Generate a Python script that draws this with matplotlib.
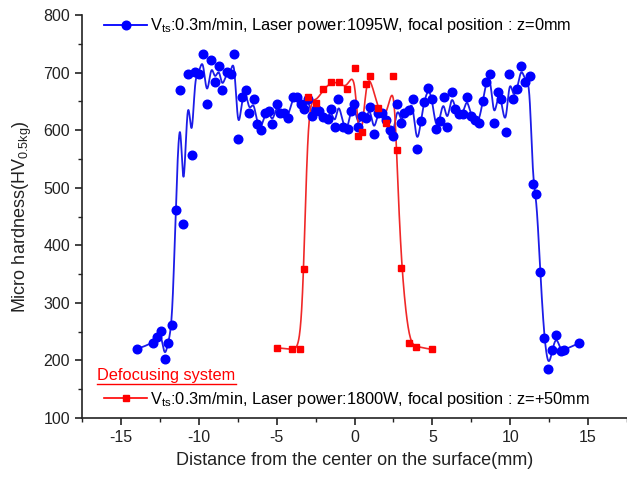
import numpy as np
import matplotlib
matplotlib.use("Agg")
import matplotlib.pyplot as plt
from matplotlib.lines import Line2D

plt.rcParams['font.family'] = ['Liberation Sans', 'DejaVu Sans']
plt.rcParams['mathtext.fontset'] = 'custom'
plt.rcParams['mathtext.rm'] = 'Liberation Sans'
plt.rcParams['mathtext.it'] = 'Liberation Sans'

# focused system, z=0mm, 1095W
x_focus = [-13.96, -12.94, -12.70, -12.43, -12.20, -11.97, -11.70, -11.49, -11.19, -10.99,
           -10.71, -10.46, -10.25, -9.98, -9.73, -9.48, -9.20, -8.97, -8.70, -8.51,
           -8.22, -7.94, -7.72, -7.48, -7.23, -6.98, -6.75, -6.48, -6.27, -6.00,
           -5.74, -5.49, -5.27, -4.99, -4.80, -4.53, -4.26, -3.96, -3.69, -3.44,
           -3.23, -2.96, -2.75, -2.50, -2.25, -2.01, -1.72, -1.51, -1.24, -1.03,
           -0.71, -0.44, -0.25, -0.02, 0.23, 0.50, 0.75, 1.01, 1.24, 1.49,
           1.74, 2.00, 2.26, 2.50, 2.75, 3.00, 3.17, 3.52, 3.73, 4.00,
           4.26, 4.47, 4.74, 4.99, 5.22, 5.47, 5.72, 5.96, 6.23, 6.47,
           6.73, 6.98, 7.22, 7.47, 7.73, 7.97, 8.24, 8.45, 8.73, 8.95,
           9.22, 9.43, 9.71, 9.95, 10.20, 10.46, 10.71, 10.96, 11.24, 11.45,
           11.68, 11.93, 12.18, 12.45, 12.70, 12.96, 13.23, 13.44, 14.42]
hv_focus = [220, 230, 241, 251, 202, 231, 262, 462, 670, 437,
            697, 556, 701, 697, 732, 645, 722, 683, 712, 670,
            701, 698, 732, 584, 657, 670, 629, 654, 611, 601,
            630, 634, 611, 645, 629, 629, 621, 658, 658, 645,
            636, 654, 625, 636, 633, 623, 619, 637, 606, 654,
            605, 602, 633, 645, 606, 625, 621, 641, 594, 630,
            630, 617, 601, 590, 645, 612, 629, 635, 654, 567,
            616, 649, 674, 654, 602, 616, 657, 606, 666, 636,
            628, 628, 658, 625, 618, 612, 650, 683, 697, 612,
            666, 654, 597, 697, 654, 671, 712, 683, 694, 506,
            489, 353, 239, 185, 218, 244, 217, 218, 230]

# defocusing system, z=+50mm, 1800W
x_defocus = [-5.0, -4.0, -3.5, -3.25, -2.97, -2.5, -2.0, -1.5, -1.0, -0.5, 0.0, 0.23,
             0.5, 0.75, 1.0, 1.5, 2.0, 2.5, 2.7, 3.0, 3.5, 3.95, 5.0]
hv_defocus = [222, 219, 220, 359, 658, 648, 671, 683, 683, 671, 708, 590,
              597, 680, 694, 638, 612, 694, 566, 360, 230, 224, 219]


def bspline(xs, ys, steps=20):
    # clamped uniform cubic B-spline with the data as control points
    px = np.r_[[xs[0]] * 2, xs, [xs[-1]] * 2]
    py = np.r_[[ys[0]] * 2, ys, [ys[-1]] * 2]
    t = np.linspace(0, 1, steps, endpoint=False)
    b0 = (1 - t) ** 3 / 6
    b1 = (3 * t ** 3 - 6 * t ** 2 + 4) / 6
    b2 = (-3 * t ** 3 + 3 * t ** 2 + 3 * t + 1) / 6
    b3 = t ** 3 / 6
    ox, oy = [], []
    for i in range(len(px) - 3):
        ox.append(b0 * px[i] + b1 * px[i + 1] + b2 * px[i + 2] + b3 * px[i + 3])
        oy.append(b0 * py[i] + b1 * py[i + 1] + b2 * py[i + 2] + b3 * py[i + 3])
    ox.append([xs[-1]])
    oy.append([ys[-1]])
    return np.concatenate(ox), np.concatenate(oy)


fig = plt.figure(figsize=(6.27, 4.78), dpi=100)
ax = fig.add_axes([82 / 627, 1 - 418 / 478, 1 - 82 / 627, (418 - 15) / 478])

blue = '#0000ff'
red = '#ff0000'

bx, by = bspline(x_focus, hv_focus)
ax.plot(bx, by, color='#1c1ce8', lw=1.3, zorder=2)
ax.plot(x_focus, hv_focus, 'o', color=blue, ms=6.2, mec=blue, zorder=3)

rx, ry = bspline(x_defocus, hv_defocus)
ax.plot(rx, ry, color='#f02828', lw=1.2, zorder=2)
ax.plot(x_defocus, hv_defocus, 's', color=red, ms=5, mec=red, zorder=3)

ax.set_xlim(-17, 17.25)
ax.set_ylim(100, 800)
ax.set_xticks([-15, -10, -5, 0, 5, 10, 15])
ax.set_xticks(np.arange(-17.5, 17.6, 2.5), minor=True)
ax.set_yticks(range(100, 801, 100))
ax.set_yticks(range(150, 800, 100), minor=True)
ax.set_xticklabels(['-15', '-10', '-5', '0', '5', '10', '15'])

for s in ['top', 'right']:
    ax.spines[s].set_visible(False)
for s in ['left', 'bottom']:
    ax.spines[s].set_color('#222222')
    ax.spines[s].set_linewidth(1.2)
ax.tick_params(which='major', direction='out', length=5, width=1.2, labelsize=11.5,
               colors='#222222')
ax.tick_params(which='minor', direction='out', length=3, width=1.0, colors='#222222')

ax.set_xlabel('Distance from the center on the surface(mm)', fontsize=13, color='#222222',
              labelpad=5)
ax.set_ylabel('Micro hardness(HV$_{0.5kg}$)', fontsize=13, color='#222222', labelpad=7)

h1 = Line2D([], [], color=blue, lw=1.3, marker='o', ms=6.2)
leg1 = ax.legend([h1], ['V$_{ts}$:0.3m/min, Laser power:1095W, focal position : z=0mm'],
                 loc='upper left', bbox_to_anchor=(0.02, 1.025), frameon=False,
                 fontsize=11.8, handlelength=2.6, handletextpad=0.2, borderpad=0.2)
ax.add_artist(leg1)

h2 = Line2D([], [], color=red, lw=1.2, marker='s', ms=5)
ax.legend([h2], ['V$_{ts}$:0.3m/min, Laser power:1800W, focal position : z=+50mm'],
          loc='lower left', bbox_to_anchor=(0.02, -0.005), frameon=False,
          fontsize=11.8, handlelength=2.6, handletextpad=0.2, borderpad=0.2)

t = ax.text(0.028, 0.095, 'Defocusing system', transform=ax.transAxes, color=red,
            fontsize=11.8, va='baseline')
fig.canvas.draw()
bb = t.get_window_extent().transformed(ax.transAxes.inverted())
ax.plot([bb.x0, bb.x1], [bb.y0 - 0.004, bb.y0 - 0.004], transform=ax.transAxes,
        color=red, lw=1.0, clip_on=False)

fig.savefig('out.png', dpi=100)
